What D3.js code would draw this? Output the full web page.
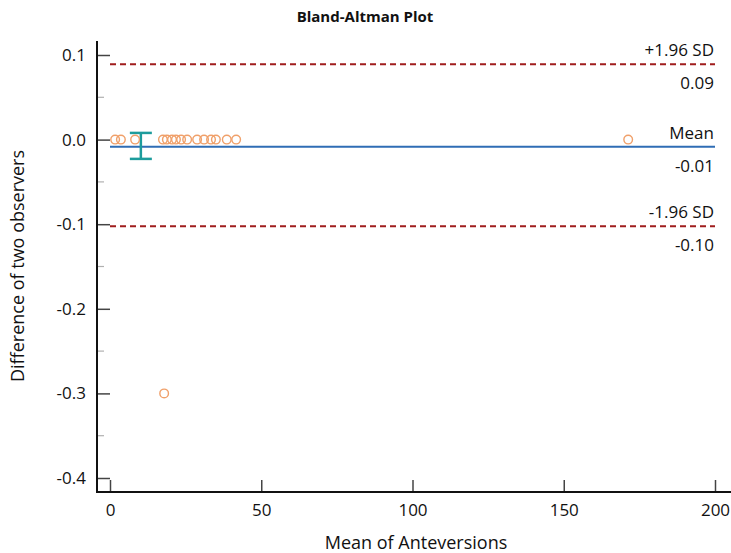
<!DOCTYPE html>
<html lang="en">
<head>
<meta charset="UTF-8">
<title>Bland-Altman Plot</title>
<script src="https://d3js.org/d3.v7.min.js"></script>
<style>
  body { margin: 0; background: #fff; }
  text { font-family: "Open Sans", "Noto Sans", sans-serif; fill: #111; }
</style>
</head>
<body>
<svg width="731" height="553"></svg>
<script>
// data
const meanX = [1.7, 3.6, 8.3, 17.5, 18.8, 20.5, 21.8, 23.5, 25.5, 28.8, 31.1, 33.4, 35.0, 38.6, 41.7, 171.3, 17.9];
const diffY = [0, 0, 0, 0, 0, 0, 0, 0, 0, 0, 0, 0, 0, 0, 0, 0, -0.3];

const meanDiff = -0.0085;
const upperLoA = 0.089;
const lowerLoA = -0.1025;
const ciMean = { x: 10.2, lo: -0.0228, hi: 0.0079 };

const refLines = [
  { name: "+1.96 SD", label: "0.09", value: upperLoA, kind: "sd" },
  { name: "Mean", label: "-0.01", value: meanDiff, kind: "mean" },
  { name: "-1.96 SD", label: "-0.10", value: lowerLoA, kind: "sd" }
];

const xTicks = [0, 50, 100, 150, 200];
const yTicks = [0.1, 0.0, -0.1, -0.2, -0.3, -0.4];
const yMinor = [0.05, -0.05, -0.15, -0.25, -0.35];

const svg = d3.select('svg');

const x = d3.scaleLinear().domain([0, 200]).range([110, 715]);
const y = d3.scaleLinear().domain([-0.4, 0.1]).range([478, 55]);

const axisLeftX = 97, axisBottomY = 492;

// title
svg.append('text')
  .attr('x', 365).attr('y', 22)
  .attr('text-anchor', 'middle')
  .attr('font-size', 15).attr('font-weight', 'bold')
  .text('Bland-Altman Plot');

// y axis (ticks pointing inward)
const yAxis = d3.axisRight(y).tickValues(yTicks).tickSize(13).tickFormat(d => d.toFixed(1));
const gy = svg.append('g').attr('transform', `translate(${axisLeftX},0)`).call(yAxis);
gy.select('.domain').remove();
gy.selectAll('.tick line').attr('stroke', '#444').attr('stroke-width', 1.5);
gy.selectAll('.tick text')
  .attr('x', -11).attr('text-anchor', 'end')
  .attr('font-size', 17).attr('fill', '#111');

gy.selectAll('.minor')
  .data(yMinor)
  .enter()
  .append('line')
  .attr('x1', 1).attr('x2', 7)
  .attr('y1', d => y(d)).attr('y2', d => y(d))
  .attr('stroke', '#b0b0b0').attr('stroke-width', 1.2);

// x axis (ticks pointing inward)
const xAxis = d3.axisTop(x).tickValues(xTicks).tickSize(12);
const gx = svg.append('g').attr('transform', `translate(0,${axisBottomY})`).call(xAxis);
gx.select('.domain').remove();
gx.selectAll('.tick line').attr('stroke', '#444').attr('stroke-width', 1.5);
gx.selectAll('.tick text')
  .attr('y', 18).attr('dy', '0.35em')
  .attr('font-size', 17).attr('fill', '#111');

// axis lines
svg.append('line')
  .attr('x1', axisLeftX).attr('x2', axisLeftX)
  .attr('y1', 41).attr('y2', axisBottomY + 1)
  .attr('stroke', '#111').attr('stroke-width', 2);
svg.append('line')
  .attr('x1', axisLeftX - 1).attr('x2', 731)
  .attr('y1', axisBottomY).attr('y2', axisBottomY)
  .attr('stroke', '#111').attr('stroke-width', 2);

// axis titles
svg.append('text')
  .attr('x', 416).attr('y', 549)
  .attr('text-anchor', 'middle')
  .attr('font-size', 18)
  .text('Mean of Anteversions');

svg.append('text')
  .attr('transform', 'translate(24,266) rotate(-90)')
  .attr('text-anchor', 'middle')
  .attr('font-size', 18)
  .text('Difference of two observers');

// reference lines
svg.selectAll('.ref')
  .data(refLines)
  .enter()
  .append('line')
  .attr('x1', x(0)).attr('x2', x(200))
  .attr('y1', d => y(d.value)).attr('y2', d => y(d.value))
  .attr('stroke', d => d.kind === 'mean' ? '#2f6db5' : '#a01c1c')
  .attr('stroke-width', 2)
  .attr('stroke-dasharray', d => d.kind === 'mean' ? null : '6,4');

svg.selectAll('.refname')
  .data(refLines)
  .enter()
  .append('text')
  .attr('x', x(200) - 1)
  .attr('y', d => y(d.value) - 8)
  .attr('text-anchor', 'end')
  .attr('font-size', 17)
  .text(d => d.name);

svg.selectAll('.reflabel')
  .data(refLines)
  .enter()
  .append('text')
  .attr('x', x(200) - 1)
  .attr('y', d => y(d.value) + 25)
  .attr('text-anchor', 'end')
  .attr('font-size', 17)
  .text(d => d.label);

// CI of mean difference
const ci = svg.append('g').attr('stroke', '#1d9c9c').attr('stroke-width', 2.5);
ci.append('line')
  .attr('x1', x(ciMean.x)).attr('x2', x(ciMean.x))
  .attr('y1', y(ciMean.hi)).attr('y2', y(ciMean.lo));
[ciMean.hi, ciMean.lo].forEach(v => {
  ci.append('line')
    .attr('x1', x(ciMean.x) - 11).attr('x2', x(ciMean.x) + 11)
    .attr('y1', y(v)).attr('y2', y(v));
});

// points
svg.selectAll('circle')
  .data(meanX)
  .enter()
  .append('circle')
  .attr('cx', d => x(d))
  .attr('cy', (d, i) => y(diffY[i]))
  .attr('r', 4.3)
  .attr('fill', 'none')
  .attr('stroke', '#f0a06a')
  .attr('stroke-width', 1.4);
</script>
</body>
</html>
